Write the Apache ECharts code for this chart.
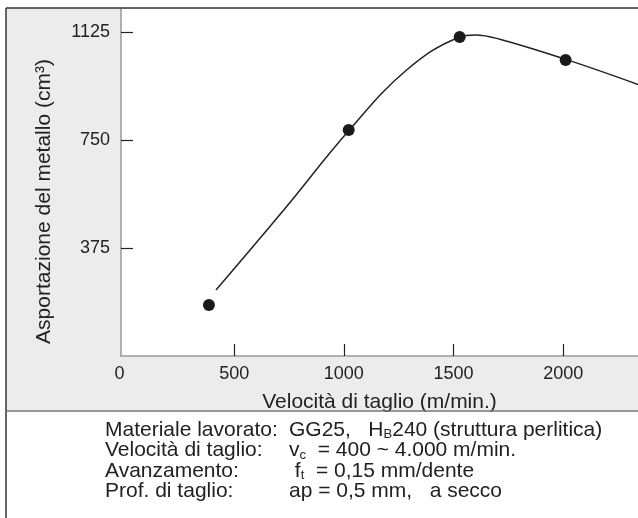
<!DOCTYPE html>
<html><head><meta charset="utf-8">
<script src="https://cdn.jsdelivr.net/npm/echarts@6/dist/echarts.min.js"></script>
<style>html,body{margin:0;padding:0;background:#fff}#c{width:638px;height:518px}</style>
</head><body><div id="c"></div>
<script>
// measured points
const measuredX = [385, 1022, 1528, 2011];
const measuredY = [177, 785, 1108, 1028];
// fitted curve
const curveX = [417, 724, 1022, 1286, 1526, 1600, 1711, 2012, 2341];
const curveY = [229, 505, 782, 993, 1107, 1115, 1100, 1030, 943];
const xTickLabels = [0, 500, 1000, 1500, 2000];
const yTickLabels = [375, 750, 1125];
const xTitle = 'Velocità di taglio (m/min.)';
const yTitle = 'Asportazione del metallo (cm³)';
const infoLabels = ['Materiale lavorato:', 'Velocità di taglio:', 'Avanzamento:', 'Prof. di taglio:'];
const infoValues = ['GG25,   H{s|B}240 (struttura perlitica)', 'v{s|c}  = 400 ~ 4.000 m/min.', ' f{s|t}  = 0,15 mm/dente', 'ap = 0,5 mm,   a secco'];

const FONT = 'Liberation Sans, Arial, sans-serif';
const chart = echarts.init(document.getElementById('c'));
const graphics = [
  {type:'rect', z:-10, shape:{x:6, y:8, width:640, height:403}, style:{fill:'#ececec'}},
  {type:'line', z:10, shape:{x1:6, y1:8, x2:640, y2:8}, style:{stroke:'#333', lineWidth:1.5}},
  {type:'line', z:10, shape:{x1:6, y1:8, x2:6, y2:518}, style:{stroke:'#333', lineWidth:1.5}},
  {type:'line', z:10, shape:{x1:6, y1:411, x2:640, y2:411}, style:{stroke:'#777', lineWidth:1.5}}
];
infoLabels.forEach((t, i) => {
  graphics.push({type:'text', x:105, y:430 + i*20.5, style:{text:t, font:'21px ' + FONT, fill:'#222', verticalAlign:'middle'}});
  graphics.push({type:'text', x:289, y:430 + i*20.5, style:{text:infoValues[i], font:'21px ' + FONT, fill:'#222', verticalAlign:'middle',
    rich:{s:{fontSize:13, fontFamily:FONT, fill:'#222', padding:[9,0,0,0]}}}});
});

chart.setOption({
  animation:false,
  graphic: graphics,
  grid:{left:121, top:9, right:-2, bottom:162, show:true, backgroundColor:'#fff', borderWidth:0},
  xAxis:{type:'value', min:-16, max:2341,
    name:xTitle, nameLocation:'middle', nameGap:36, nameTextStyle:{fontSize:21, color:'#222', fontFamily:FONT},
    axisLine:{onZero:false, lineStyle:{color:'#999', width:1.5}},
    axisTick:{inside:true, length:12, customValues:xTickLabels.slice(1), lineStyle:{color:'#222', width:1.2}},
    axisLabel:{customValues:xTickLabels, fontSize:18, color:'#222', fontFamily:FONT, margin:9,
      formatter:v => v === 0 ? '{z|0}' : String(v), rich:{z:{fontSize:18, color:'#222', fontFamily:FONT, padding:[0,10,0,0]}}},
    splitLine:{show:false}},
  yAxis:{type:'value', min:0, max:1205,
    name:yTitle, nameLocation:'middle', nameGap:66, nameTextStyle:{fontSize:21, color:'#222', fontFamily:FONT, padding:[0,38,0,0]},
    axisLine:{show:true, onZero:false, lineStyle:{color:'#999', width:1.5}},
    axisTick:{show:true, inside:true, length:12, customValues:yTickLabels, lineStyle:{color:'#222', width:1.2}},
    axisLabel:{customValues:yTickLabels, fontSize:18, color:'#222', fontFamily:FONT, margin:11, formatter:v => String(v)},
    splitLine:{show:false}},
  series:[
    {type:'line', data:curveX.map((x,i)=>[x, curveY[i]]), smooth:0.4, showSymbol:false, symbol:'none',
     lineStyle:{color:'#222', width:1.5}, z:2},
    {type:'scatter', data:measuredX.map((x,i)=>[x, measuredY[i]]), symbolSize:12, itemStyle:{color:'#1a1a1a', opacity:1}, z:3}
  ]
});
</script></body></html>
